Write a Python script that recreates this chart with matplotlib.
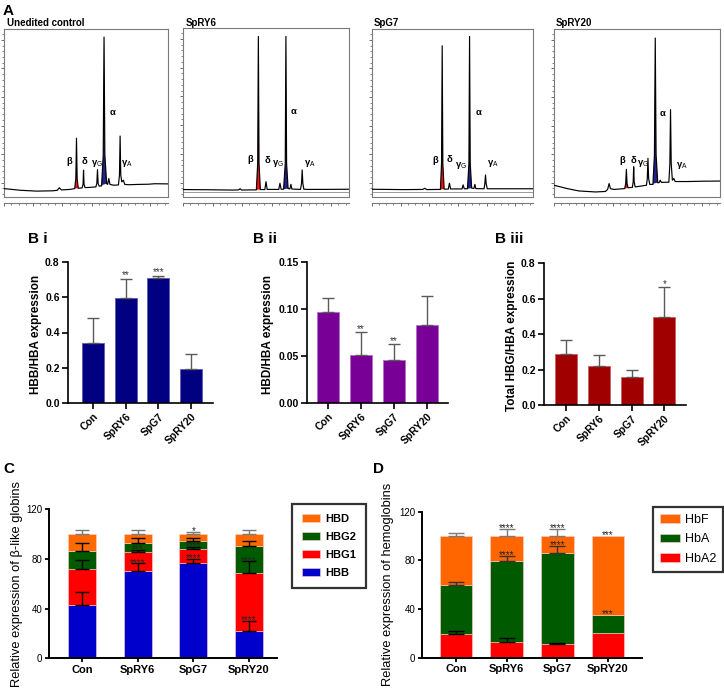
import numpy as np
import matplotlib
matplotlib.use('Agg')
import matplotlib.pyplot as plt
from matplotlib.ticker import FixedLocator, MultipleLocator

plt.rcParams['font.family'] = ['Liberation Sans', 'DejaVu Sans']
plt.rcParams['mathtext.fontset'] = 'custom'
plt.rcParams['mathtext.rm'] = 'Liberation Sans'
plt.rcParams['mathtext.it'] = 'Liberation Sans:italic'
plt.rcParams['mathtext.bf'] = 'Liberation Sans:bold'

# ---------------- data ----------------
groups = ['Con', 'SpRY6', 'SpG7', 'SpRY20']

# Panel A chromatograms (retention position 0-100, relative signal 0-1)
chrom_titles = ['Unedited control', 'SpRY6', 'SpG7', 'SpRY20']
ctrl_t = [0, 10, 20, 30, 32.5, 33.7, 35, 40, 43.1, 43.8, 44.2, 44.6, 45.3, 47.6, 48.2, 48.5, 48.8, 49.4,
          52, 56.0, 56.6, 57.0, 57.4, 58.0, 59.5, 60.5, 61.0, 61.5, 62.6, 63.2, 63.9, 64.6, 67, 69.8, 70.4,
          70.8, 71.2, 71.8, 72.8, 73.6, 76, 82, 88, 92, 100]
ctrl_s = [0.05, 0.04, 0.035, 0.037, 0.04, 0.055, 0.042, 0.045, 0.05, 0.11, 0.35, 0.11, 0.052, 0.054, 0.075,
          0.16, 0.075, 0.056, 0.057, 0.06, 0.08, 0.163, 0.08, 0.065, 0.066, 0.25, 0.952, 0.25, 0.08, 0.075,
          0.11, 0.075, 0.07, 0.072, 0.13, 0.363, 0.13, 0.09, 0.1, 0.075, 0.073, 0.075, 0.076, 0.079, 0.078]
spry6_t = [0, 15, 30, 33.5, 34.4, 35.3, 40, 44.2, 45.0, 45.4, 45.8, 46.6, 49.3, 50.0, 50.7, 57.7, 58.4, 59.1,
           60.6, 61.6, 62.0, 62.4, 63.3, 64.4, 65.0, 65.6, 70.8, 71.4, 71.8, 72.2, 72.8, 75, 85, 100]
spry6_s = [0.044, 0.043, 0.041, 0.042, 0.049, 0.041, 0.042, 0.042, 0.2, 0.95, 0.2, 0.044, 0.044, 0.091, 0.045,
           0.045, 0.081, 0.046, 0.046, 0.2, 0.95, 0.2, 0.05, 0.048, 0.075, 0.047, 0.045, 0.08, 0.16, 0.08,
           0.046, 0.045, 0.045, 0.046]
spg7_t = [0, 20, 31.5, 32.8, 34, 40, 42.5, 43.2, 43.6, 44.0, 44.8, 47.4, 48.1, 48.8, 55.9, 56.6, 57.3, 59.3,
          60.2, 60.6, 61.0, 61.9, 63.3, 63.9, 64.5, 69.6, 70.1, 70.5, 70.9, 71.6, 75, 100]
spg7_s = [0.046, 0.044, 0.045, 0.052, 0.044, 0.045, 0.045, 0.2, 0.9, 0.2, 0.047, 0.047, 0.082, 0.048, 0.048,
          0.072, 0.049, 0.049, 0.2, 0.956, 0.2, 0.053, 0.051, 0.075, 0.05, 0.049, 0.08, 0.131, 0.08, 0.049,
          0.049, 0.049]
spry20_t = [0, 8, 15, 25, 31, 32.3, 33.2, 34, 36, 40, 42.6, 43.2, 43.6, 44.0, 44.6, 47.2, 47.7, 48.0, 48.3,
            48.9, 55.7, 56.2, 56.6, 57.0, 57.7, 59.6, 60.5, 61.0, 61.5, 62.5, 63.3, 64.0, 64.7, 69.2, 69.8,
            70.2, 70.6, 71.3, 72.2, 73.0, 80, 90, 100]
spry20_s = [0.07, 0.05, 0.036, 0.03, 0.033, 0.045, 0.08, 0.05, 0.045, 0.048, 0.05, 0.08, 0.165, 0.08, 0.055,
            0.057, 0.09, 0.18, 0.09, 0.06, 0.07, 0.11, 0.23, 0.11, 0.075, 0.075, 0.25, 0.946, 0.25, 0.085,
            0.085, 0.1, 0.087, 0.088, 0.2, 0.52, 0.2, 0.1, 0.11, 0.092, 0.092, 0.094, 0.095]
beta_win = [(43.1, 45.3), (44.2, 46.6), (42.5, 44.8), (42.6, 44.6)]
alpha_win = [(58.0, 62.6), (60.6, 63.3), (59.3, 61.9), (57.7, 62.5)]
peak_names = ['β', 'δ', r'γ$_\mathrm{G}$', 'α', r'γ$_\mathrm{A}$']

# Panel B
hbb_hba = [0.343, 0.596, 0.709, 0.194]
hbb_hba_sd = [0.140, 0.108, 0.014, 0.083]
hbb_hba_sig = ['', '**', '***', '']
hbd_hba = [0.0968, 0.0507, 0.0454, 0.0827]
hbd_hba_sd = [0.0152, 0.0248, 0.0173, 0.0313]
hbd_hba_sig = ['', '**', '**', '']
hbg_hba = [0.290, 0.2225, 0.160, 0.498]
hbg_hba_sd = [0.075, 0.0615, 0.038, 0.165]
hbg_hba_sig = ['', '', '', '*']

# Panel C (% of beta-like globins)
hbb_pct = [43.2, 70.3, 77.0, 21.7]
hbg1_pct = [28.7, 15.1, 10.8, 47.0]
hbg2_pct = [14.5, 7.7, 6.9, 21.7]
hbd_pct = [13.6, 6.9, 5.3, 9.6]
hbb_sd = [10.2, 6.2, 3.2, 8.6]
hbg1_sd = [7.0, 2.0, 2.1, 9.4]
hbg2_sd = [6.2, 3.5, 1.9, 3.8]
hbd_sd = [3.0, 3.0, 1.9, 3.0]
hbb_sig = ['', '****', '****', '****']
hbg1_sig = ['', '***', '****', '****']
hbg2_sig = ['', '', '', '']
hbd_sig = ['', '', '*', '']

# Panel D (% of hemoglobins)
hba2_pct = [19.5, 12.6, 11.2, 20.0]
hba_pct = [40.3, 66.6, 74.6, 14.8]
hbf_pct = [40.2, 20.8, 14.2, 65.2]
hba2_sd = [2.4, 3.3, 1.1, 0.0]
hba_sd = [2.1, 4.6, 6.3, 0.0]
hbf_sd = [2.4, 6.0, 5.5, 0.0]
hba2_sig = ['', '', '', '']
hba_sig = ['', '****', '****', '***']
hbf_sig = ['', '****', '****', '***']

# ---------------- figure ----------------
W, H = 724, 690
fig = plt.figure(figsize=(W / 100, H / 100), dpi=100)


def fax(l, t, r, b):
    return fig.add_axes([l / W, 1 - b / H, (r - l) / W, (b - t) / H])


def ftext(x, y, s, **kw):
    fig.text(x / W, 1 - y / H, s, **kw)


# ---- Panel A ----
chrom_t = [ctrl_t, spry6_t, spg7_t, spry20_t]
chrom_s = [ctrl_s, spry6_s, spg7_s, spry20_s]
chrom_boxes = [(4, 29, 168, 197), (183, 28, 349, 197), (372, 29, 533, 197), (554, 29, 720, 197)]
title_x = [7, 186, 374, 556]
label_pos = [
    [(39.6, 0.213), (49.3, 0.213), (56.8, 0.2), (66.1, 0.502), (75, 0.2)],
    [(40.4, 0.22), (50.8, 0.215), (57, 0.2), (66.4, 0.506), (76.4, 0.2)],
    [(39, 0.217), (48.1, 0.225), (55.6, 0.19), (66.4, 0.503), (75.3, 0.2)],
    [(41.2, 0.215), (48, 0.22), (53.6, 0.2), (65.2, 0.5), (77.2, 0.19)],
]
for i in range(4):
    ax = fax(*chrom_boxes[i])
    t = np.array(chrom_t[i])
    s = np.array(chrom_s[i])
    for (a, b), col in [(beta_win[i], '#FF1010'), (alpha_win[i], '#22228E')]:
        m = (t >= a - 1e-9) & (t <= b + 1e-9)
        ax.fill(t[m], s[m], color=col, lw=0, zorder=2)
    if i in (1, 2):
        ax.axhline(0.032, color='#9a9a9a', lw=0.7, zorder=1)
    ax.plot(t, s, color='black', lw=0.85, zorder=3)
    ax.set_xlim(0, 100)
    ax.set_ylim(0, 1)
    for sp in ax.spines.values():
        sp.set_color('#7a7a7a')
        sp.set_linewidth(0.8)
    ax.spines['bottom'].set_position(('outward', 4))
    ax.plot([0, 1], [0, 0], transform=ax.transAxes, color='#7a7a7a', lw=0.8, clip_on=False)
    ax.yaxis.set_major_locator(FixedLocator(np.arange(0.085, 1.0, 0.17)))
    ax.yaxis.set_minor_locator(FixedLocator(np.arange(0.017, 1.0, 0.034)))
    ax.xaxis.set_major_locator(MultipleLocator(17.8))
    ax.xaxis.set_minor_locator(MultipleLocator(4.45))
    ax.tick_params(which='both', direction='out', color='#555555', labelleft=False, labelbottom=False)
    ax.tick_params(which='major', length=2.5, width=0.6)
    ax.tick_params(which='minor', length=1.5, width=0.5)
    for name, (px, py) in zip(peak_names, label_pos[i]):
        ax.text(px, py, name, ha='center', va='center', fontsize=6.8, fontweight='bold', zorder=4)
    ftext(title_x[i], 22.5, chrom_titles[i], fontsize=7, fontweight='bold', ha='left', va='center')

ftext(3, 11, 'A', fontsize=11, fontweight='bold', ha='left', va='center')


# ---- Panel B ----
def bar_panel(box, vals, sds, sigs, color, edge, ymax, ystep, fmt, xl, ylab, ylab_x):
    ax = fax(*box)
    x = np.arange(len(groups))
    ax.bar(x, vals, width=0.67, color=color, edgecolor=edge, lw=0.6, zorder=2)
    ax.errorbar(x, vals, yerr=[np.zeros(len(vals)), sds], fmt='none', ecolor='#5a5a5a',
                elinewidth=1.0, capsize=4.2, capthick=1.0, zorder=3)
    for xi, v, sd, sg in zip(x, vals, sds, sigs):
        if sg:
            ax.annotate(sg, (xi, v + sd), xytext=(0, 0.3), textcoords='offset points',
                        ha='center', va='baseline', fontsize=7, color='#333333')
    ax.set_xlim(*xl)
    ax.set_ylim(0, ymax)
    ticks = np.arange(0, ymax + ystep / 2, ystep)
    ax.set_yticks(ticks)
    ax.set_yticklabels([fmt.format(v) for v in ticks])
    ax.set_xticks(x)
    ax.set_xticklabels(groups, rotation=45, ha='right', va='top', rotation_mode='anchor')
    for sp in ['top', 'right']:
        ax.spines[sp].set_visible(False)
    for sp in ['left', 'bottom']:
        ax.spines[sp].set_linewidth(1.2)
    ax.tick_params(direction='out', length=4, width=1.2, labelsize=7.5, pad=2)
    for lab in ax.get_xticklabels() + ax.get_yticklabels():
        lab.set_fontweight('bold')
    l, t, r, b = box
    ftext(ylab_x, (t + b) / 2 + 2, ylab, rotation=90, ha='center', va='center',
          fontsize=8.5, fontweight='bold')
    return ax


bar_panel((68, 262, 213, 403), hbb_hba, hbb_hba_sd, hbb_hba_sig, '#000080', '#5a5ab4',
          0.8, 0.2, '{:.1f}', (-0.765, 3.67), 'HBB/HBA expression', 35.5)
bar_panel((307, 262, 448, 403), hbd_hba, hbd_hba_sd, hbd_hba_sig, '#780096', '#b070c8',
          0.15, 0.05, '{:.2f}', (-0.64, 3.64), 'HBD/HBA expression', 268)
bar_panel((544, 263, 686, 405), hbg_hba, hbg_hba_sd, hbg_hba_sig, '#A00000', '#c86060',
          0.8, 0.2, '{:.1f}', (-0.67, 3.66), 'Total HBG/HBA expression', 512.5)

ftext(28, 239, 'B i', fontsize=11, fontweight='bold', ha='left', va='center')
ftext(253, 239, 'B ii', fontsize=11, fontweight='bold', ha='left', va='center')
ftext(495, 239, 'B iii', fontsize=11, fontweight='bold', ha='left', va='center')


# ---- Panels C and D ----
def stacked_panel(box, layers, width, xl, capsize, star_dy, ylab, ylab_x, ylab_size,
                  legend_anchor, legend_kw):
    ax = fax(*box)
    x = np.arange(len(groups))
    bottom = np.zeros(len(groups))
    handles = []
    tops = []
    for name, vals, sds, sigs, color, ecol in layers:
        vals = np.array(vals)
        h = ax.bar(x, vals, width=width, bottom=bottom, color=color, edgecolor='#ffd0d0',
                   lw=0.4, zorder=2, label=name)
        handles.append(h)
        tops.append((bottom + vals, sds, sigs, ecol))
        bottom = bottom + vals
    for top, sds, sigs, ecol in tops:
        sds = np.array(sds)
        m = sds > 0
        ax.errorbar(x[m], top[m], yerr=[np.zeros(m.sum()), sds[m]], fmt='none', ecolor=ecol,
                    elinewidth=1.0, capsize=capsize, capthick=1.0, zorder=3)
        for xi, tp, sd, sg in zip(x, top, sds, sigs):
            if sg:
                ax.annotate(sg, (xi, tp + sd), xytext=(0, star_dy), textcoords='offset points',
                            ha='center', va='baseline', fontsize=7, color='#222222', zorder=4)
    ax.set_xlim(*xl)
    ax.set_ylim(0, 120)
    ax.set_yticks([0, 40, 80, 120])
    ax.set_xticks(x)
    ax.set_xticklabels(groups)
    for sp in ['top', 'right']:
        ax.spines[sp].set_visible(False)
    for sp in ['left', 'bottom']:
        ax.spines[sp].set_linewidth(1.4)
    ax.tick_params(direction='out', length=3, width=1.3, labelsize=8, pad=1.5)
    for lab in ax.get_xticklabels():
        lab.set_fontweight('bold')
    for lab in ax.get_yticklabels():
        lab.set_fontsize(7)
    l, t, r, b = box
    ftext(ylab_x, (t + b) / 2, ylab, rotation=90, ha='center', va='center', fontsize=ylab_size)
    leg = ax.legend(handles[::-1], [hh.get_label() for hh in handles[::-1]], loc='upper left',
                    bbox_to_anchor=(legend_anchor[0] / W, 1 - legend_anchor[1] / H),
                    bbox_transform=fig.transFigure, fancybox=False, borderaxespad=0,
                    **legend_kw)
    leg.get_frame().set_edgecolor('black')
    leg.get_frame().set_linewidth(1.6)
    return ax


stacked_panel((48.5, 509.3, 276.7, 658.3),
              [('HBB', hbb_pct, hbb_sd, hbb_sig, '#0000CC', 'black'),
               ('HBG1', hbg1_pct, hbg1_sd, hbg1_sig, '#FF0000', 'black'),
               ('HBG2', hbg2_pct, hbg2_sd, hbg2_sig, '#005A00', 'black'),
               ('HBD', hbd_pct, hbd_sd, hbd_sig, '#FF6A00', '#7a7a7a')],
              0.5, (-0.601, 3.497), 4.8, -2.0,
              'Relative expression of β-like globins', 17.5, 9.3, (292, 504),
              dict(prop={'size': 8, 'weight': 'bold'}, handlelength=1.6, handleheight=0.65,
                   labelspacing=0.72, borderpad=0.9, handletextpad=0.5))

stacked_panel((421.7, 511.7, 641.7, 657.7),
              [('HbA2', hba2_pct, hba2_sd, hba2_sig, '#FF0000', 'black'),
               ('HbA', hba_pct, hba_sd, hba_sig, '#005A00', '#333333'),
               ('HbF', hbf_pct, hbf_sd, hbf_sig, '#FF6600', '#7a7a7a')],
              0.65, (-0.677, 3.665), 5.5, -1.5,
              'Relative expression of hemoglobins', 388, 9.3, (653, 507),
              dict(prop={'size': 9}, handlelength=1.6, handleheight=0.64,
                   labelspacing=0.6, borderpad=0.55, handletextpad=0.4))

ftext(3, 469, 'C', fontsize=11, fontweight='bold', ha='left', va='center')
ftext(373, 469, 'D', fontsize=11, fontweight='bold', ha='left', va='center')

fig.savefig('out.png', dpi=100)
